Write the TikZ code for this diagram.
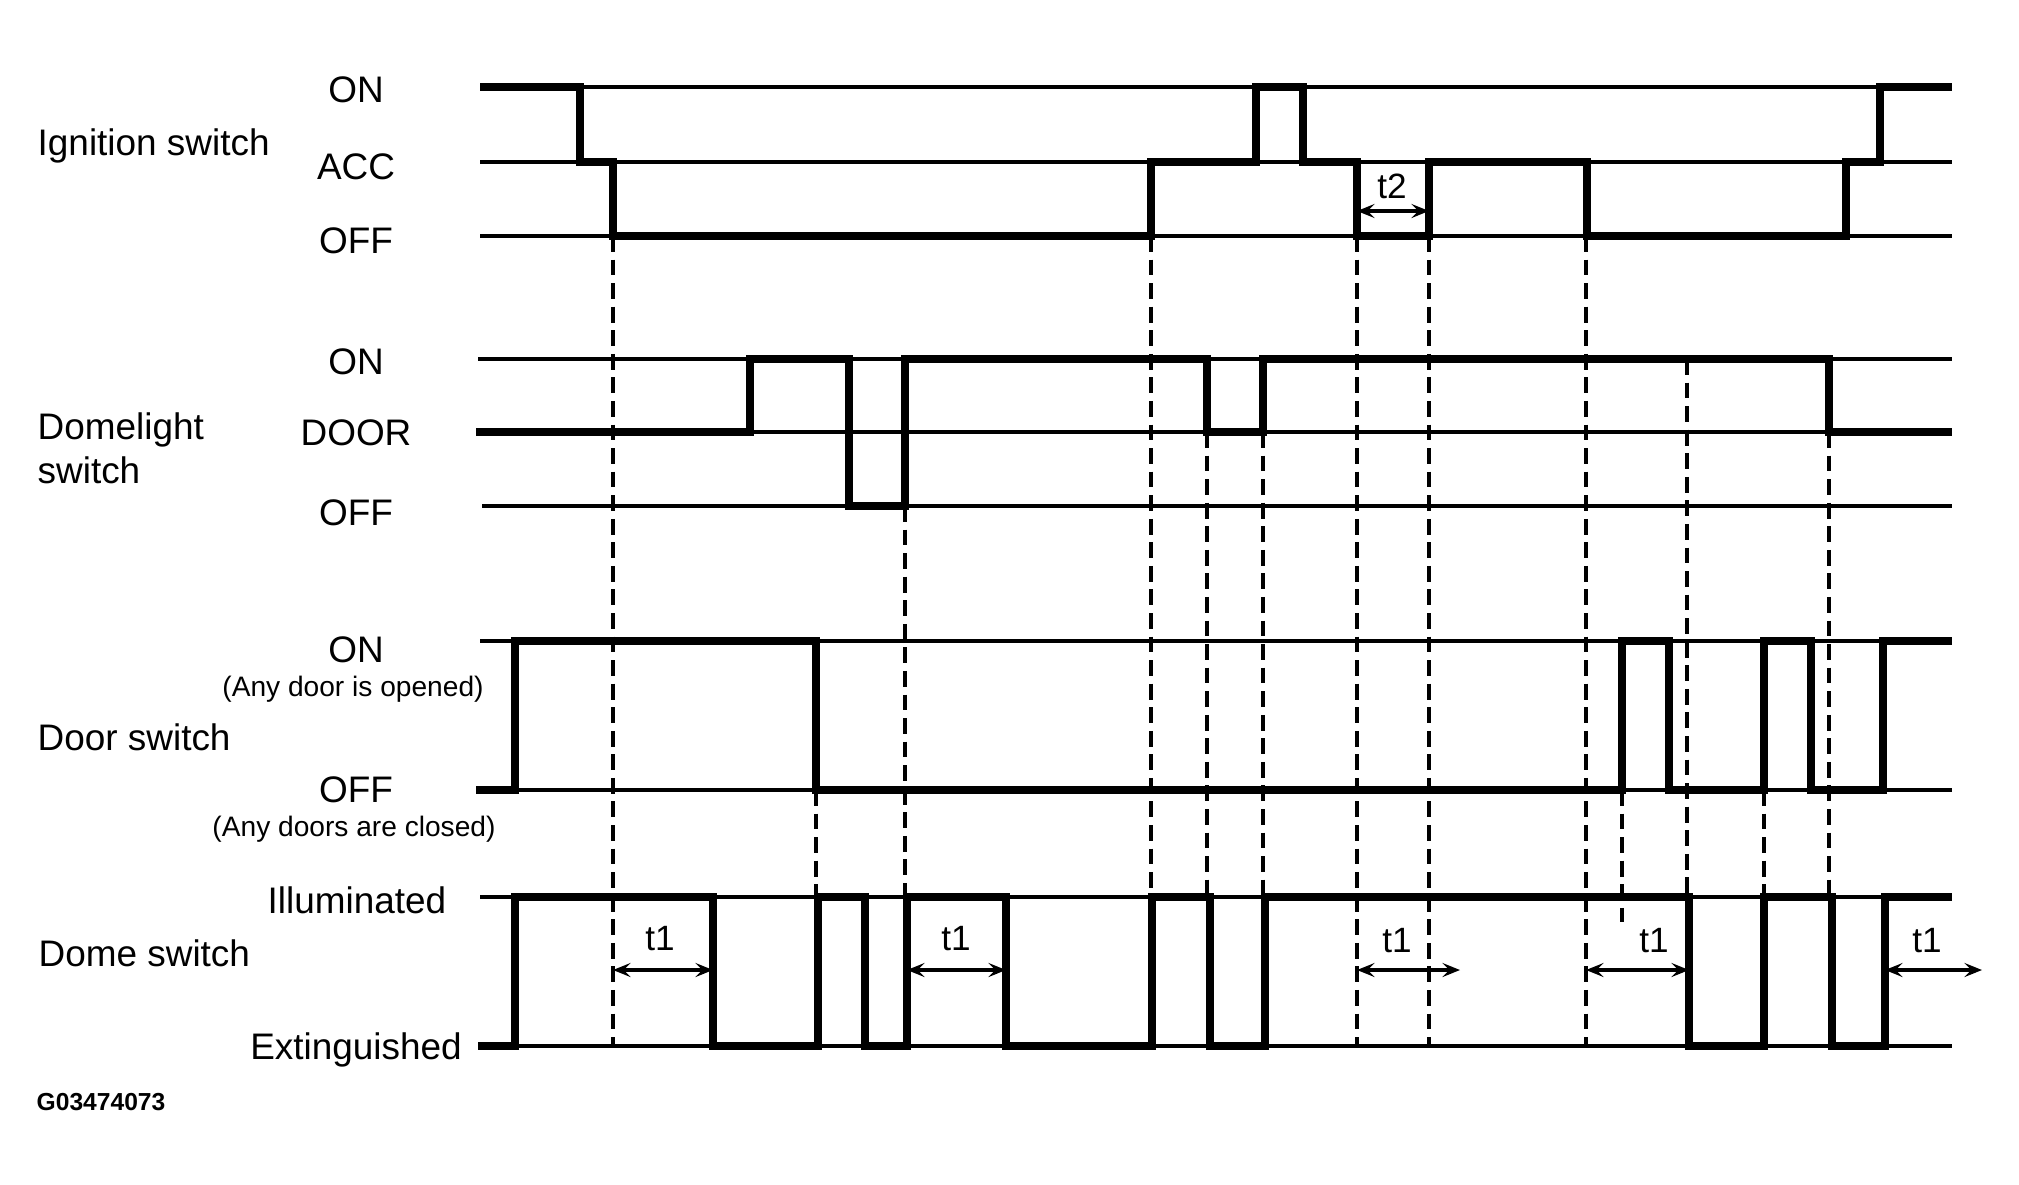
\documentclass[tikz,border=0pt]{standalone}
\usepackage{fontspec}
\setmainfont{Liberation Sans}
\usetikzlibrary{arrows.meta}

\begin{document}
\begin{tikzpicture}[x=0.01cm,y=-0.01cm]
\tikzstyle{rail}=[line width=0.9pt]
\tikzstyle{wave}=[line width=2.1pt,line join=miter]
\tikzstyle{guide}=[line width=0.9pt,dash pattern=on 4.5pt off 2.2pt]
\tikzstyle{tarr}=[line width=0.9pt,{Stealth[length=5pt,width=4pt,inset=2pt]}-{Stealth[length=5pt,width=4pt,inset=2pt]}]
\tikzstyle{title}=[anchor=west,inner sep=0pt,align=left,font=\fontsize{10.5}{12.5}\selectfont]
\tikzstyle{lvl}=[inner sep=0pt,font=\fontsize{10.5}{12.5}\selectfont]
\tikzstyle{small}=[inner sep=0pt,font=\fontsize{8}{10}\selectfont]
\tikzstyle{tlab}=[inner sep=0pt,font=\fontsize{10}{12}\selectfont]
\useasboundingbox (0,0) rectangle (2019,1184);
% labels
\node[title] (ign) at (37,146) {Ignition switch};
\node[lvl] (ignon) at (356,90) {ON};
\node[lvl] (ignacc) at (356,167) {ACC};
\node[lvl] (ignoff) at (356,241) {OFF};
\node[title] (dom) at (37,448) {Domelight\\switch};
\node[lvl] (domon) at (356,362) {ON};
\node[lvl] (domdoor) at (356,433) {DOOR};
\node[lvl] (domoff) at (356,513) {OFF};
\node[title] (door) at (37,737) {Door switch};
\node[lvl] (dooron) at (356,650) {ON};
\node[small] (dooropen) at (353,689) {(Any door is opened)};
\node[lvl] (dooroff) at (356,790) {OFF};
\node[small] (doorshut) at (354,829) {(Any doors are closed)};
\node[title] (dome) at (38,953) {Dome switch};
\node[lvl] (domeill) at (357,900) {Illuminated};
\node[lvl] (domeext) at (356,1050) {Extinguished};
\node[title,font=\bfseries\fontsize{7}{8}\selectfont] (code) at (36,1102) {G03474073};
% level lines
\draw[rail] (480,87) -- (1952,87);
\draw[rail] (480,162) -- (1952,162);
\draw[rail] (480,236) -- (1952,236);
\draw[rail] (478,359) -- (1952,359);
\draw[rail] (476,432) -- (1952,432);
\draw[rail] (482,506) -- (1952,506);
\draw[rail] (480,641) -- (1952,641);
\draw[rail] (476,790) -- (1952,790);
\draw[rail] (480,897) -- (1952,897);
\draw[rail] (478,1046) -- (1952,1046);
% signals
\draw[wave] (480,87) -| (580,162) -| (613,236) -| (1151,162) -| (1256,87) -| (1303,162) -| (1357,236) -| (1429,162) -| (1587,236) -| (1846,162) -| (1880,87) -- (1952,87);
\draw[wave] (476,432) -| (750,359) -| (849,506) -| (905,359) -| (1207,432) -| (1263,359) -| (1829,432) -- (1952,432);
\draw[wave] (476,790) -| (515,641) -| (816,790) -| (1622,641) -| (1669,790) -| (1764,641) -| (1811,790) -| (1883,641) -- (1952,641);
\draw[wave] (478,1046) -| (515,897) -| (713,1046) -| (818,897) -| (865,1046) -| (907,897) -| (1006,1046) -| (1152,897) -| (1210,1046) -| (1265,897) -| (1689,1046) -| (1764,897) -| (1832,1046) -| (1885,897) -- (1952,897);
% guides
\draw[guide] (613,236) -- (613,1046);
\draw[guide] (816,790) -- (816,897);
\draw[guide] (905,506) -- (905,897);
\draw[guide] (1151,236) -- (1151,897);
\draw[guide] (1207,432) -- (1207,897);
\draw[guide] (1263,432) -- (1263,897);
\draw[guide] (1357,236) -- (1357,1046);
\draw[guide] (1429,236) -- (1429,1046);
\draw[guide] (1586,236) -- (1586,1046);
\draw[guide] (1622,790) -- (1622,922);
\draw[guide] (1687,359) -- (1687,897);
\draw[guide] (1764,790) -- (1764,897);
\draw[guide] (1829,432) -- (1829,897);
% times
\draw[tarr] (1357,211) -- (1429,211);
\node[tlab] (t2) at (1392,186) {t2};
\draw[tarr] (613,970) -- (713,970);
\node[tlab] (t1a) at (660,939) {t1};
\draw[tarr] (907,970) -- (1006,970);
\node[tlab] (t1b) at (956,939) {t1};
\draw[tarr] (1357,970) -- (1460,970);
\node[tlab] (t1c) at (1397,941) {t1};
\draw[tarr] (1586,970) -- (1689,970);
\node[tlab] (t1d) at (1654,941) {t1};
\draw[tarr] (1885,970) -- (1982,970);
\node[tlab] (t1e) at (1927,941) {t1};
\end{tikzpicture}
\end{document}
